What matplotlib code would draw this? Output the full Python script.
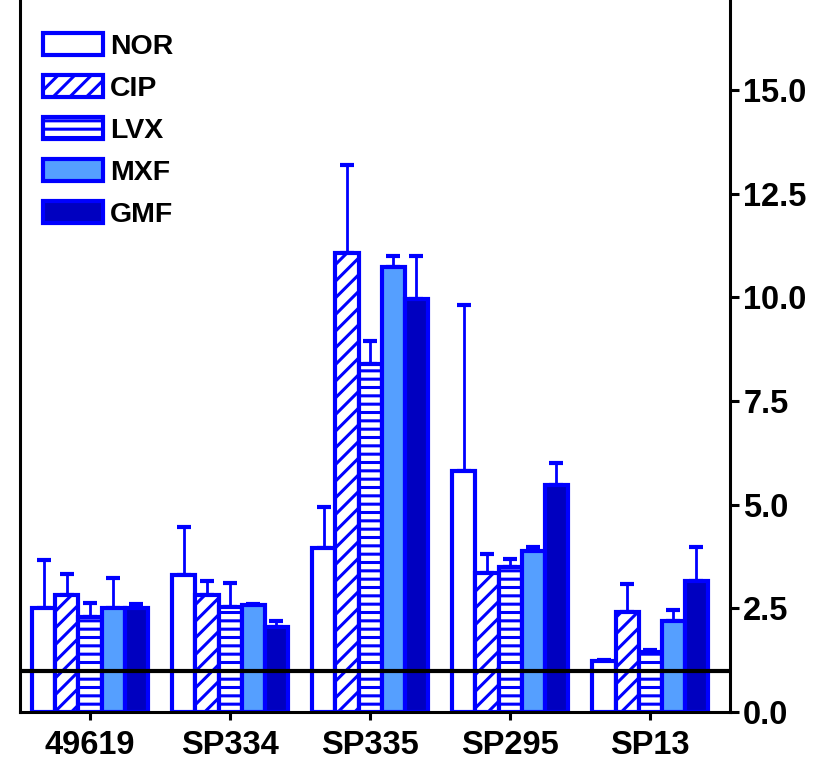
import matplotlib
matplotlib.use("Agg")
import matplotlib.pyplot as plt
import numpy as np

groups = ["49619", "SP334", "SP335", "SP295", "SP13"]
series = ["NOR", "CIP", "LVX", "MXF", "GMF"]
values = {
    "NOR": [2.51, 3.30, 3.95, 5.80, 1.24],
    "CIP": [2.82, 2.82, 11.08, 3.36, 2.40],
    "LVX": [2.29, 2.53, 8.40, 3.49, 1.45],
    "MXF": [2.51, 2.58, 10.74, 3.88, 2.19],
    "GMF": [2.50, 2.05, 9.96, 5.47, 3.17],
}
upper = {
    "NOR": [3.67, 4.46, 4.94, 9.82, 1.26],
    "CIP": [3.33, 3.16, 13.19, 3.81, 3.08],
    "LVX": [2.63, 3.11, 8.94, 3.68, 1.50],
    "MXF": [3.23, 2.60, 10.99, 3.99, 2.46],
    "GMF": [2.60, 2.20, 10.99, 6.01, 3.99],
}
yticks = [0.0, 2.5, 5.0, 7.5, 10.0, 12.5, 15.0]
threshold = 1.0

faces = {"NOR": "white", "CIP": "white", "LVX": "white", "MXF": "#559FFF", "GMF": "#0000C0"}
hatches = {"NOR": None, "CIP": "//", "LVX": "--", "MXF": None, "GMF": None}
edge = "#0000FF"

plt.rcParams["font.family"] = ["Liberation Sans", "DejaVu Sans"]
plt.rcParams["font.weight"] = "bold"
plt.rcParams["hatch.color"] = edge
plt.rcParams["hatch.linewidth"] = 2.2

fig = plt.figure(figsize=(8.29, 7.61), dpi=100)
ax = fig.add_axes([20/829, 49/761, 710/829, 712/761])

x = np.arange(len(groups))
w = 0.165
for i, s in enumerate(series):
    pos = x + (i - 2) * w
    vals = np.array(values[s])
    err = np.array(upper[s]) - vals
    ax.bar(pos, vals, width=w, color=faces[s], edgecolor=edge, linewidth=3.0,
           hatch=hatches[s], label=s, zorder=2)
    ax.errorbar(pos, vals, yerr=[np.zeros_like(err), err], fmt="none",
                ecolor=edge, elinewidth=2, capsize=5, capthick=3, zorder=1)

ax.axhline(threshold, color="black", linewidth=3, zorder=5)

ax.set_xlim(-0.5, 4.57)
ax.set_ylim(0, 17.17)
ax.set_xticks(x)
ax.set_xticklabels(groups, fontsize=23.5, fontweight="bold")
ax.yaxis.tick_right()
ax.set_yticks(yticks)
ax.set_yticklabels([f"{v:.1f}" for v in yticks], fontsize=23.5, fontweight="bold")
ax.tick_params(axis="y", length=6.5, width=2.2, pad=3, direction="out")
ax.tick_params(axis="x", length=6, width=2.2, pad=7, direction="out")
ax.spines["top"].set_visible(False)
for sp in ["left", "right", "bottom"]:
    ax.spines[sp].set_linewidth(2.2)

leg = ax.legend(loc="upper left", bbox_to_anchor=(0.032, 0.953), frameon=False,
                borderpad=0, borderaxespad=0, handlelength=2.1,
                handleheight=0.8, handletextpad=0.25, labelspacing=0.53,
                prop={"weight": "bold", "size": 20.5})

fig.savefig("out.png", dpi=100)
